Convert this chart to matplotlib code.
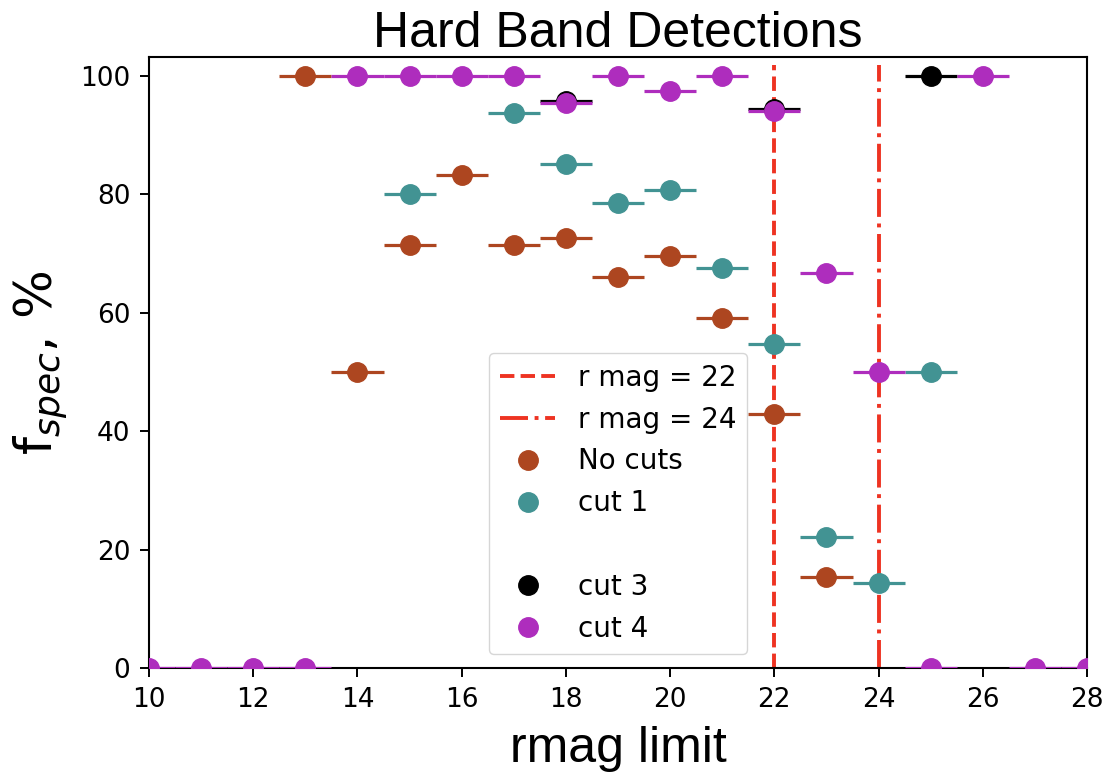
import matplotlib
matplotlib.use("Agg")
import matplotlib.pyplot as plt
from matplotlib.lines import Line2D

# ---- data ----
x_nocuts = [13, 14, 15, 16, 17, 18, 19, 20, 21, 22, 23]
y_nocuts = [100, 50.0, 71.4, 83.3, 71.4, 72.7, 66.0, 69.6, 59.2, 42.9, 15.4]

x_cut1 = [15, 17, 18, 19, 20, 21, 22, 23, 24, 25]
y_cut1 = [80.0, 93.75, 85.2, 78.6, 80.8, 67.5, 54.8, 22.2, 14.3, 50.0]

x_cut3 = [18, 22, 25]
y_cut3 = [95.8, 94.4, 100]

x_cut4 = [10, 11, 12, 13, 14, 15, 16, 17, 18, 19, 20, 21, 22, 23, 24, 25, 26, 27, 28]
y_cut4 = [0, 0, 0, 0, 100, 100, 100, 100, 95.45, 100, 97.4, 100, 94.1, 66.7, 50.0, 0, 100, 0, 0]

xerr_half = 0.5
rmag_lines = [22, 24]
rmag_labels = ["r mag = 22", "r mag = 24"]
series_labels = ["No cuts", "cut 1", " ", "cut 3", "cut 4"]

c_nocuts = "#ad4620"
c_cut1 = "#429393"
c_cut2 = "white"
c_cut3 = "black"
c_cut4 = "#ae2dbd"
c_red = "#ee3322"

fig = plt.figure(figsize=(11.18, 7.76), dpi=100)
ax = fig.add_axes([0.1333, 0.1392, 0.839, 0.7873])

ms = 14
elw = 2.3
for xs, ys, c in [(x_nocuts, y_nocuts, c_nocuts), (x_cut1, y_cut1, c_cut1),
                  (x_cut3, y_cut3, c_cut3), (x_cut4, y_cut4, c_cut4)]:
    ax.errorbar(xs, ys, xerr=xerr_half, fmt='o', color=c, ms=ms,
                elinewidth=elw, capsize=0, zorder=3)

ytop = 101.8
l22, = ax.plot([rmag_lines[0]] * 2, [0, ytop], ls='--', color=c_red, lw=2.8,
               zorder=2.5)
l24, = ax.plot([rmag_lines[1]] * 2, [0, ytop], ls='-.', color=c_red, lw=2.8,
               dashes=(7.2, 1.7, 1.0, 1.7), zorder=2.5)

ax.set_xlim(10, 28)
ax.set_ylim(0, 103.2)
ax.set_xticks(range(10, 29, 2))
ax.set_yticks(range(0, 101, 20))
ax.tick_params(labelsize=19, length=6.5, width=1.4, pad=7)
for s in ax.spines.values():
    s.set_linewidth(1.5)

ax.set_title("Hard Band Detections", fontname="Liberation Sans", fontsize=36, pad=4.5)
ax.set_xlabel("rmag limit", fontname="Liberation Sans", fontsize=36, labelpad=9.5)
ax.set_ylabel("f$_{spec}$, %", fontsize=37, labelpad=8)

handles = [l22, l24]
for c in [c_nocuts, c_cut1, c_cut2, c_cut3, c_cut4]:
    handles.append(Line2D([], [], ls='none', marker='o', color=c, ms=ms))
labels = rmag_labels + series_labels
ax.legend(handles, labels, loc='lower center', fontsize=20, labelspacing=0.5)

fig.savefig("out.png", dpi=100)
